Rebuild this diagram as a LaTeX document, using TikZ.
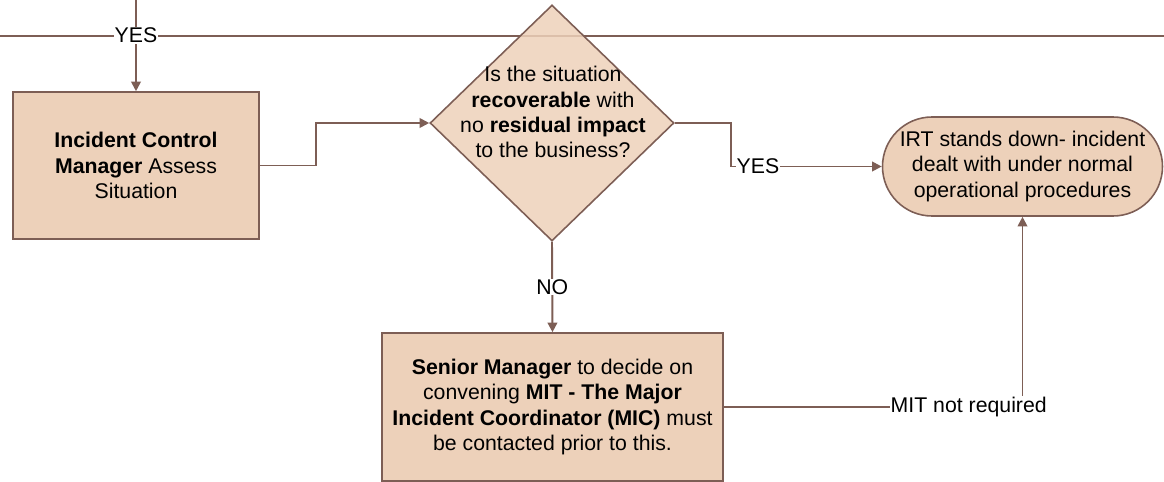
\documentclass[tikz,border=0pt]{standalone}
\usepackage{fontspec}
\setmainfont{Liberation Sans}
\usetikzlibrary{arrows.meta,shapes.geometric}
\definecolor{boxfill}{HTML}{EDD1BA}
\definecolor{edgebrown}{HTML}{7D5E55}
\tikzset{
  procbox/.style={draw=edgebrown,fill=boxfill,line width=0.9pt,align=center,inner sep=0pt},
  decbox/.style={diamond,draw=edgebrown,fill=boxfill,fill opacity=0.85,line width=0.9pt,inner sep=0pt},
  termbox/.style={procbox,rounded corners=0.99cm},
  flow/.style={draw=edgebrown,line width=1.1pt,-{Triangle[length=5.5pt,width=5.5pt]}},
  lbl/.style={fill=white,inner sep=0.5pt,text=black}
}
\begin{document}
\begin{tikzpicture}[font=\fontsize{12.1pt}{14.3pt}\selectfont]
  \useasboundingbox (0,0) rectangle (23.28,-9.64);
  \coordinate (top) at (2.72,0);
  \coordinate (lanel) at (0,-0.72);
  \coordinate (laner) at (23.28,-0.72);

  % swimlane border
  \draw[edgebrown,line width=1.1pt] (lanel) -- (laner);

  % shapes
  \node[procbox,minimum width=4.92cm,minimum height=2.94cm] (icm) at (2.72,-3.31)
    {\textbf{Incident Control}\\\textbf{Manager} Assess\\Situation};
  \node[decbox,minimum width=4.88cm,minimum height=4.72cm] (dec) at (11.04,-2.46) {};
  \node[align=center] (decq) at (11.06,-2.24)
    {Is the situation\\\textbf{recoverable} with\\no \textbf{residual impact}\\to the business?};
  \node[termbox,minimum width=5.6cm,minimum height=1.98cm] (irt) at (20.45,-3.33)
    {IRT stands down- incident\\dealt with under normal\\operational procedures};
  \node[procbox,minimum width=6.82cm,minimum height=2.96cm] (sm) at (11.05,-8.14)
    {\textbf{Senior Manager} to decide on\\convening \textbf{MIT - The Major}\\\textbf{Incident Coordinator (MIC)} must\\be contacted prior to this.};

  % connectors
  \draw[flow] (top) -- node[lbl,pos=0.39] (yes1) {YES} (icm);
  \draw[flow] (icm.east) -- ++(1.12,0) |- (dec.west);
  \draw[flow] (dec.east) -- ++(1.12,0) |- node[lbl,pos=0.59] (yes2) {YES} (irt.west);
  \draw[flow] (dec.south) -- node[lbl] (no) {NO} (sm.north);
  \draw[flow] (sm.east) -| node[lbl,pos=0.41] (notreq) {MIT not required} (irt.south);
\end{tikzpicture}
\end{document}
